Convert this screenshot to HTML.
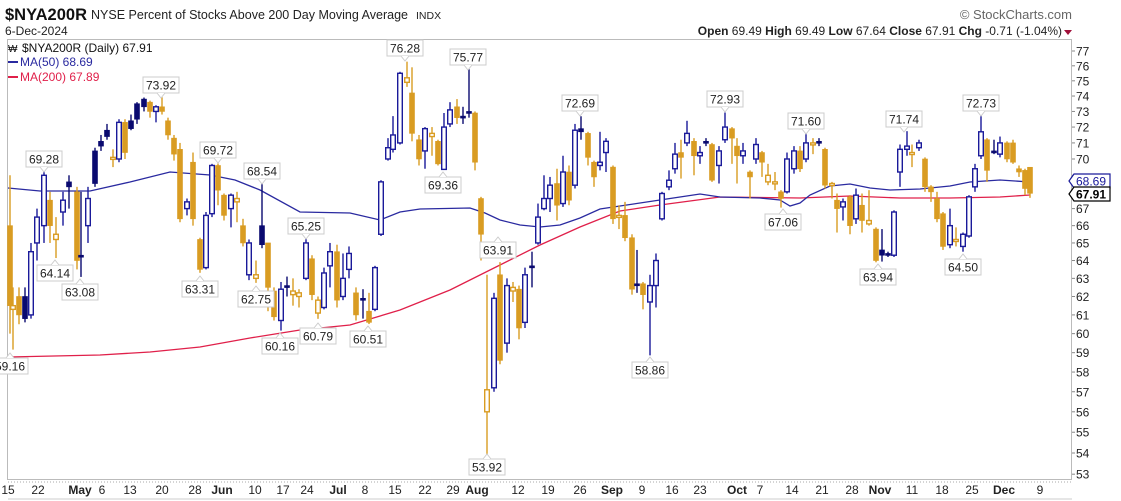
<!DOCTYPE html>
<html><head><meta charset="utf-8"><style>
body{margin:0;background:#fff;font-family:"Liberation Sans",sans-serif;}
svg{display:block}
</style></head><body>
<svg id="s" width="1121" height="501" xmlns="http://www.w3.org/2000/svg" font-family="Liberation Sans, sans-serif">
<rect width="1121" height="501" fill="#fff"/>
<text x="5" y="20" font-size="17" font-weight="bold" fill="#111" textLength="82" lengthAdjust="spacingAndGlyphs">$NYA200R</text>
<text x="91" y="19" font-size="12.5" fill="#222" textLength="317" lengthAdjust="spacingAndGlyphs">NYSE Percent of Stocks Above 200 Day Moving Average</text>
<text x="416" y="19" font-size="10.5" fill="#222">INDX</text>
<text x="5" y="35" font-size="12" fill="#222">6-Dec-2024</text>
<text x="1072" y="19" font-size="13" fill="#666" text-anchor="end">© StockCharts.com</text>
<text x="1062" y="35" font-size="12" fill="#222" text-anchor="end"><tspan font-weight="bold">Open</tspan> 69.49  <tspan font-weight="bold">High</tspan> 69.49  <tspan font-weight="bold">Low</tspan> 67.64  <tspan font-weight="bold">Close</tspan> 67.91  <tspan font-weight="bold">Chg</tspan> -0.71 (-1.04%)</text>
<path d="M1064 30 L1072 30 L1068 35 Z" fill="#a0103a"/>
<rect x="7.5" y="39.5" width="1064" height="440" fill="none" stroke="#bbb"/>
<text x="22" y="52" font-size="12" fill="#111">$NYA200R (Daily) 67.91</text>
<text x="8" y="52" font-size="10" fill="#111">₩</text>
<line x1="8" y1="62" x2="18" y2="62" stroke="#2a2aa0" stroke-width="2"/>
<text x="20" y="66" font-size="12" fill="#2a2aa0">MA(50) 68.69</text>
<line x1="8" y1="77" x2="18" y2="77" stroke="#e0204a" stroke-width="2"/>
<text x="20" y="81" font-size="12" fill="#e0204a">MA(200) 67.89</text>
<g id="g"></g>
</svg>
<script>
const g=document.getElementById('g');const NS='http://www.w3.org/2000/svg';
function Y(v){return 51+1133*Math.log(77/v);}
function el(t,a,txt){const e=document.createElementNS(NS,t);for(const k in a)e.setAttribute(k,a[k]);if(txt!==undefined)e.textContent=txt;g.appendChild(e);return e;}
for(let v=53;v<=77;v++){const y=Y(v);el('line',{x1:1072,y1:y,x2:1075,y2:y,stroke:'#888'});
 if(v!==68&&v!==69)el('text',{x:1076,y:y+4.5,'font-size':12,fill:'#222'},v);}
const ma50=[[8,188],[40,191],[90,191],[130,182],[170,172],[210,175],[235,180],[260,190],[300,212],[350,213],[380,220],[400,212],[420,209],[470,208],[485,213],[500,220],[520,225],[540,227],[560,225],[580,218],[600,209],[620,206],[660,200],[680,197],[700,194],[720,197],[760,198],[780,200],[790,206],[800,203],[810,195],[830,186],[850,184],[870,188],[890,190],[920,189],[950,186],[970,182],[1000,180],[1030,182]];
const ma200=[[8,357],[100,355],[150,352],[200,347],[250,338],[300,330],[350,325],[400,310],[450,290],[500,265],[540,245],[580,227],[620,211],[660,205],[690,201],[720,197],[800,198],[850,196],[900,198],[950,198],[1000,197],[1030,195]];
el('polyline',{points:ma200.map(p=>p.join(',')).join(' '),fill:'none',stroke:'#e0204a','stroke-width':1.3});
el('polyline',{points:ma50.map(p=>p.join(',')).join(' '),fill:'none',stroke:'#2a2aa0','stroke-width':1.3});
const C=[
[10,'o',66,61.5,69,60],[13,'h',61.3,61.5,62.5,59.16],[19,'o',62,61,62.5,60.5],[25,'n',60.8,62,62.5,60.6],[31,'b',61,64.5,65,60.8],[37,'b',65,66.5,67,64],[44,'b',66,69,69.28,65],[50,'o',67.5,66,68,65],[56,'h',65.2,65.5,66.5,64.14],[63,'b',66.8,67.5,68,66],[69,'n',68.3,68.6,69,67],[77,'o',68,64,68.3,63.5],[81,'n',64.2,64.3,68,63.08],[88,'b',66,67.6,68.3,65],[95,'n',68.5,70.5,70.7,68.3],[101,'n',70.8,71.1,71.5,70.5],[107,'n',71.4,71.8,72.2,71.2],[113,'h',70,70.1,70.6,69.5],[119,'b',70,72.3,72.5,69.8],[125,'o',72.3,70.4,72.5,70],[131,'n',71.9,72.4,72.8,71.8],[137,'n',72.5,73.5,73.6,72.2],[144,'n',73.3,73.8,73.9,73],[150,'o',73.6,73,73.7,72.6],[156,'b',73,73.3,73.4,72.3],[162,'o',73.3,73,73.92,72.8],[168,'o',72.4,71.5,72.6,71.2],[174,'o',71.3,70.3,71.5,69.9],[180,'o',70.6,66.4,71,66.2],[187,'b',67,67.4,67.6,66.6],[193,'o',69.8,66.4,70.4,66],[200,'o',65.2,63.5,65.3,63.31],[206,'b',63.6,66.6,66.8,63.5],[212,'b',66.7,69.6,69.7,66.5],[218,'o',69.6,68.1,69.72,67.2],[224,'o',67.8,66.6,67.9,66.3],[231,'b',67,67.8,67.9,65.9],[237,'h',67.4,67.6,68,66.2],[243,'o',66,65,66.4,64.8],[249,'b',63.2,65,65.2,62.9],[256,'h',63,63.2,64,62.75],[262,'n',66,64.9,68.54,64.7],[268,'o',65,62.5,65,61.2],[274,'o',62.3,60.9,62.5,60.7],[281,'b',60.7,62.4,62.8,60.16],[287,'n',62.5,62.6,63.1,62],[293,'h',62.1,62.3,63,61.5],[299,'h',62,62.2,62.4,61.4],[306,'b',63,65,65.25,62.9],[312,'o',64.1,62.1,64.3,61.8],[318,'h',61.1,61.8,62,60.79],[324,'b',61.4,63.3,63.6,61.3],[330,'b',63.7,64.5,65,62.5],[337,'o',64.5,61.8,64.9,61.4],[343,'b',62,63,64.4,61.8],[349,'b',63.5,64.4,64.8,63],[356,'o',62.2,61,62.5,60.7],[363,'n',61.8,61.9,62.4,60.8],[369,'o',61.2,60.6,62.2,60.51],[375,'b',61.3,63.6,63.7,61.2],[381,'b',65.5,68.6,68.7,65.4],[388,'b',70,70.7,71.3,69.9],[393,'b',70.6,71.5,72.7,70.4],[400,'b',71,75.5,75.6,70.9],[407,'h',74.9,75.2,76.28,74.6],[412,'o',74.2,71.6,75.9,71.1],[419,'o',71.2,70,71.5,69.6],[425,'b',70.5,71.9,72,69.4],[432,'h',71.4,71.6,72,70.2],[438,'o',71.1,69.7,71.2,69.6],[444,'b',69.36,72,72.9,69.36],[450,'b',72.2,73.1,73.6,72],[457,'o',73.3,72.6,73.8,72.2],[463,'n',72.6,72.7,73.3,72.2],[469,'n',72.9,73.0,75.77,72.6],[475,'o',72.9,69.8,73,69.3],[481,'o',67.6,65.5,67.7,64],[487,'h',56,57.1,63.2,53.92],[494,'b',57.2,61.9,62.2,57],[500,'o',63.2,58.6,63.91,58.4],[507,'b',59.5,62.6,63,59],[513,'h',62.3,62.5,62.8,61.7],[519,'o',62.4,60.3,62.6,59.7],[525,'b',60.6,63.2,63.6,60.3],[532,'n',63.6,63.7,64.5,62.5],[538,'b',65,66.5,67.3,64.9],[544,'b',67,67.6,69,66.9],[550,'b',67.6,68.4,68.9,66.8],[557,'o',68.5,67.2,69.4,66.3],[563,'b',67.3,69.2,70.2,67.1],[569,'o',69.2,67.5,69.6,67.2],[575,'b',68.4,71.8,72.2,68.2],[581,'n',71.7,71.9,72.69,71.2],[588,'o',71.6,70.1,71.7,69.6],[594,'o',69.8,68.9,69.9,68.3],[600,'b',69.6,69.8,71.7,69.3],[606,'b',70.4,71.1,71.3,69.2],[613,'o',69.5,66.4,69.6,66.1],[619,'h',66.5,66.6,67.2,65.8],[625,'o',66.6,65.3,67.4,65.1],[632,'o',65.3,62.4,65.5,62.1],[637,'n',62.6,62.7,64.6,62.2],[643,'o',62.7,62.1,62.8,61.3],[650,'b',61.7,62.6,63.2,58.86],[656,'b',62.6,64,64.4,61.4],[662,'b',66.4,67.9,68,66.3],[669,'b',68.3,68.7,69.3,68.1],[675,'b',69.4,70.3,71,69.1],[681,'o',70.4,70.1,71.2,68.8],[687,'b',71,71.6,72.4,70.8],
[694,'o',71.1,70.2,71.3,69],[700,'b',70.2,70.4,70.8,69.7],[706,'n',71,71.1,71.3,70.8],[712,'o',70.9,68.7,71,68.6],[719,'b',69.6,70.5,70.8,68.5],[725,'b',71.2,72,72.93,71],[732,'o',71.9,71.3,72,69.7],[737,'o',70.8,70.2,71.3,68.5],[743,'b',70.2,70.5,71,69.7],[750,'o',69.2,68.9,69.3,67.6],[756,'b',70,70.9,71.3,69.7],[762,'o',70.4,69.8,70.5,68.9],[768,'h',68.6,69,69.7,68.4],[775,'h',68.5,68.6,69.2,68.1],[781,'o',68,67.6,68.1,67.06],[787,'b',68,70,70.4,67.9],[794,'b',69.4,70.5,70.8,69.1],[800,'o',70.5,69.4,70.8,69.2],[806,'b',70,71,71.6,69.8],[813,'h',70.9,71,71.3,70.3],[819,'n',71,71.1,71.3,70.8],[825,'o',70.6,68.4,70.7,68.2],[832,'h',68.4,68.5,68.6,67.6],[837,'o',67.5,67,67.9,65.6],[843,'b',67.1,67.4,67.6,66.3],[850,'o',67.7,66,67.8,65.5],[856,'b',66.4,67.8,68.2,66.1],[862,'o',67.2,66.3,67.9,65.6],[869,'h',66.1,66.3,68.1,66],[876,'o',65.8,64,65.9,63.9],[882,'n',64.6,64.3,65.8,63.94],[888,'n',64.3,64.4,64.5,64.2],[894,'b',64.3,66.8,66.9,64.2],[900,'b',69.2,70.6,70.9,68.3],[907,'b',70.6,70.8,71.74,70.2],[912,'h',70.3,70.4,70.9,69.5],[919,'b',70.7,71,71.2,70.5],[925,'o',70,68.3,70.1,68],[931,'o',68.3,68,68.4,67.4],[937,'o',67.6,66.4,68,66.2],[943,'o',66.7,64.8,66.8,64.6],[950,'b',64.9,66,67,64.7],[956,'h',65.1,65.2,65.9,64.8],[963,'b',64.8,65.5,65.6,64.5],[969,'b',65.4,67.7,67.8,65.3],[975,'b',68.3,69.4,69.7,68],[981,'b',70.2,71.7,72.73,70],[987,'o',71.2,69.3,71.3,68.6],[994,'n',70.4,70.5,71.2,70.3],[1000,'b',70.3,71,71.4,70.1],[1007,'o',71,70,71.1,69.8],[1013,'o',71,69.8,71.2,69.7],[1019,'o',69.4,69.2,69.6,68.9],[1025,'o',69.3,68.2,69.4,67.8],[1030,'o',69.49,67.91,69.49,67.64]];
const BL='#1a1a9a',NV='#0a0a70',OR='#d99c22';
for(const [x,t,o,c,h,l] of C){
 const col=(t==='o'||t==='h')?OR:(t==='n'?NV:BL);
 el('line',{x1:x,y1:Y(h),x2:x,y2:Y(l),stroke:col,'stroke-width':1.4});
 let yt=Math.min(Y(o),Y(c)),hh=Math.max(Math.abs(Y(o)-Y(c)),2);
 if(t==='o'||t==='n') el('rect',{x:x-2.5,y:yt,width:5,height:hh,fill:col,stroke:col,'stroke-width':0.6});
 else el('rect',{x:x-2.3,y:yt,width:4.6,height:hh,fill:'#fff',stroke:col,'stroke-width':1.4});
}
const L=[['69.28',44,159,1],['64.14',55,273,0],['63.08',80,292,0],['73.92',161,85,1],['69.72',218,150,1],['68.54',262,171,1],['63.31',200,289,0],['62.75',256,299,0],['65.25',306,226,1],['60.16',280,346,0],['60.79',318,336,0],['60.51',368,339,0],['76.28',405,48,1],['75.77',468,57,1],['69.36',443,185,0],['72.69',580,103,1],['63.91',498,250,0],['53.92',487,467,0],['58.86',650,370,0],['72.93',725,99,1],['71.60',806,121,1],['67.06',783,222,0],['71.74',904,119,1],['63.94',878,277,0],['64.50',963,267,0],['72.73',981,103,1],['59.16',10,366,0]];
for(const [t,x,y,up] of L){
 el('rect',{x:x-18,y:y-8,width:36,height:16,fill:'#fff',stroke:'#ccc'});
 if(up) el('path',{d:`M${x-4} ${y+8} L${x} ${y+13} L${x+4} ${y+8}`,fill:'#fff',stroke:'#ccc'});
 else el('path',{d:`M${x-4} ${y-8} L${x} ${y-13} L${x+4} ${y-8}`,fill:'#fff',stroke:'#ccc'});
 el('text',{x:x,y:y+4.5,'font-size':12,fill:'#222','text-anchor':'middle'},t);
}
function pb(v,y,col,b){el('path',{d:`M1069 ${y} L1074 ${y-7} L1110 ${y-7} L1110 ${y+7} L1074 ${y+7} Z`,fill:'#fff',stroke:col,'stroke-width':1.2});
 el('text',{x:1076,y:y+4.5,'font-size':12,fill:col==='#000'?'#000':'#1a1a9a','font-weight':b?'bold':'normal'},v);}
pb('68.69',181,'#1a1a9a',0);pb('67.91',194,'#000',1);
el('line',{x1:8,y1:482,x2:1072,y2:482,stroke:'#aaa','stroke-dasharray':'1,2'});
const X=[['15',8],['22',38],['May',80,1],['6',102],['13',130],['20',162],['28',195],['Jun',222,1],['10',255],['17',283],['24',307],['Jul',338,1],['8',365],['15',395],['22',425],['29',453],['Aug',477,1],['12',518],['19',548],['26',580],['Sep',612,1],['9',642],['16',672],['23',700],['Oct',737,1],['7',760],['14',792],['21',822],['28',852],['Nov',880,1],['11',912],['18',942],['25',972],['Dec',1004,1],['9',1040]];
for(const [t,x,b] of X) el('text',{x:x,y:494,'font-size':12,fill:'#222','text-anchor':'middle','font-weight':b?'bold':'normal'},t);
el('line',{x1:8,y1:499,x2:1072,y2:499,stroke:'#ccc'});
</script>
</body></html>
